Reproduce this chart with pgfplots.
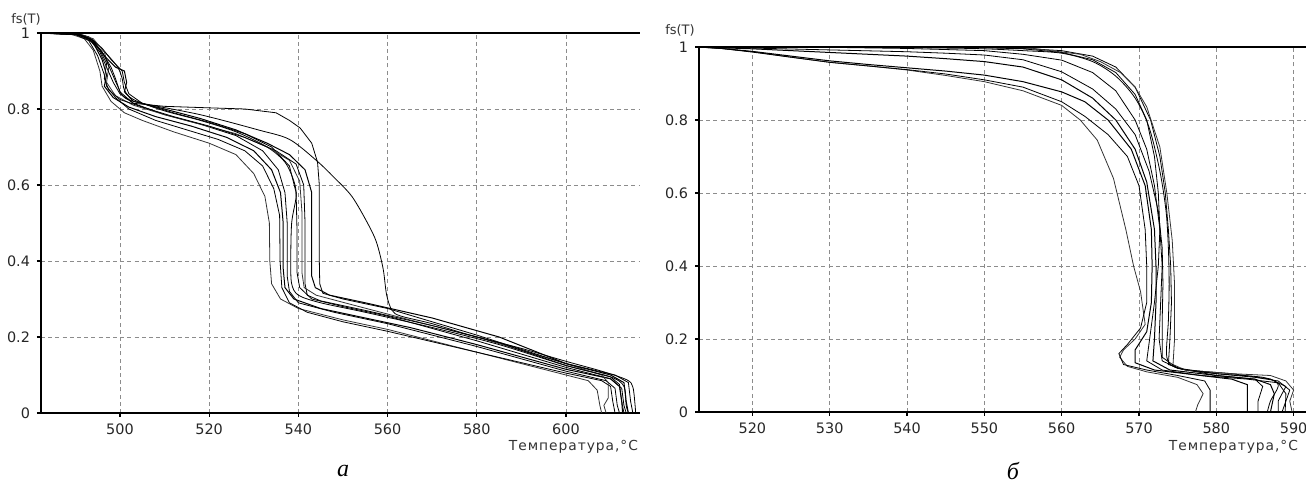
\documentclass[border=0pt]{standalone}
\usepackage{fontspec}
\setmainfont{DejaVu Sans}
\newfontfamily\capfont{Liberation Serif}
\usepackage{pgfplots}
\pgfplotsset{compat=1.18}

\pgfplotsset{
  panel/.style={
    scale only axis, anchor=south west,
    axis lines=left, axis line style={-, line width=1pt, black},
    ymin=0, ymax=1, ytick={0,0.2,...,1},
    yticklabels={0,0.2,0.4,0.6,0.8,1},
    grid=major,
    major grid style={black!45, line width=0.4pt, dash pattern=on 2pt off 1.6pt},
    tick align=outside, major tick length=2pt,
    tick style={black, line width=0.6pt},
    tick label style={font=\fontsize{7.2}{8}\selectfont, text=black!85},
    /pgf/number format/assume math mode=true,
    cycle list={{black!80, solid, line width=0.5pt, line join=round, smooth, tension=0.35}},
    no markers,
  },
}

\begin{document}
\begin{tikzpicture}
\path[use as bounding box] (0,0) rectangle (653pt,242.5pt);

% ---- panel a ----
\begin{axis}[panel, at={(20.5pt,36pt)}, width=299.5pt, height=190pt,
  xmin=482.3, xmax=616.6, xtick={500,520,...,600}]
% L1
\addplot coordinates {(482,1)(489,0.997)(492,0.985)(494,0.955)(495.5,0.9)(496,0.86)(498,0.82)(501,0.79)(505,0.77)(512,0.74)(520,0.71)(526,0.68)(530,0.63)(532.5,0.57)(533.5,0.5)(533.6,0.4)(534,0.34)(536,0.3)(540,0.275)(550,0.245)(560,0.22)(570,0.19)(580,0.16)(590,0.13)(600,0.1)(605,0.085)(607,0.06)(607.6,0.02)(608,0)};
% L2
\addplot coordinates {(482,1)(490,0.996)(493,0.98)(495,0.94)(496.5,0.89)(497,0.86)(499,0.83)(502,0.8)(508,0.77)(515,0.745)(522,0.72)(528,0.69)(532,0.65)(534.5,0.59)(535.8,0.52)(535.9,0.4)(536.3,0.33)(538,0.29)(542,0.265)(550,0.24)(560,0.215)(580,0.16)(600,0.105)(608,0.085)(610,0.07)(610.5,0.03)(611,0)};
% L3
\addplot coordinates {(482,1)(491,0.995)(494,0.975)(496,0.93)(497,0.89)(496.5,0.86)(498.5,0.83)(502,0.805)(508,0.78)(516,0.755)(524,0.725)(530,0.69)(534,0.64)(536,0.58)(536.6,0.5)(536.6,0.38)(537,0.33)(539,0.3)(545,0.275)(555,0.25)(565,0.225)(580,0.18)(600,0.115)(610,0.09)(612,0.07)(612.5,0.03)(612.7,0)};
% L4
\addplot coordinates {(482,1)(490,0.997)(493.5,0.985)(496,0.95)(498,0.91)(499,0.88)(500,0.845)(503,0.815)(510,0.785)(518,0.76)(526,0.73)(532,0.69)(535.5,0.64)(537,0.58)(537.5,0.5)(537.5,0.36)(538,0.32)(540,0.29)(548,0.265)(560,0.235)(580,0.175)(600,0.11)(609,0.085)(611,0.065)(611.5,0.02)(612,0)};
% L5
\addplot coordinates {(482,1)(491,0.996)(494,0.98)(497,0.945)(499.5,0.91)(500.5,0.88)(501,0.85)(503,0.825)(510,0.795)(518,0.77)(526,0.74)(533,0.7)(537,0.66)(539,0.61)(539.5,0.57)(538.5,0.5)(538.3,0.4)(538.5,0.34)(540,0.31)(545,0.29)(555,0.265)(570,0.225)(585,0.18)(600,0.125)(610,0.095)(613,0.07)(613.5,0.02)(614,0)};
% L6
\addplot coordinates {(482,1)(490,0.998)(493,0.99)(496,0.96)(498,0.93)(500.5,0.9)(501,0.87)(502,0.84)(505,0.815)(512,0.79)(520,0.765)(528,0.735)(534,0.7)(538,0.65)(539.5,0.58)(539.7,0.48)(539.7,0.37)(540.3,0.33)(543,0.3)(550,0.28)(560,0.255)(580,0.19)(600,0.12)(610,0.09)(612.5,0.065)(613,0.02)(613.5,0)};
% L7
\addplot coordinates {(482,1)(491,0.997)(494,0.985)(496.5,0.95)(497.5,0.91)(497,0.87)(499,0.835)(503,0.81)(510,0.785)(518,0.76)(526,0.735)(533,0.7)(538,0.665)(540.3,0.61)(540.8,0.53)(540.8,0.37)(541.3,0.33)(544,0.31)(552,0.285)(565,0.245)(580,0.2)(600,0.13)(608,0.1)(609.5,0.08)(609.5,0.04)(608.5,0.02)(609,0)};
% L8
\addplot coordinates {(482,1)(490,0.996)(493,0.985)(495.5,0.955)(497,0.92)(496.5,0.88)(497.5,0.85)(500,0.825)(505,0.805)(512,0.78)(520,0.755)(528,0.725)(535,0.69)(539.5,0.655)(541.2,0.6)(541.5,0.5)(541.5,0.34)(542,0.31)(545,0.295)(555,0.27)(570,0.23)(585,0.185)(600,0.125)(610,0.095)(612,0.075)(612.5,0.03)(613,0)};
% L9
\addplot coordinates {(482,1)(491,0.996)(494,0.98)(496.5,0.94)(499,0.91)(501,0.9)(501.5,0.87)(501,0.845)(503,0.82)(510,0.8)(518,0.775)(526,0.745)(533,0.71)(538,0.68)(541.5,0.64)(543,0.58)(543,0.45)(543,0.36)(543.8,0.33)(547,0.31)(555,0.29)(570,0.25)(585,0.2)(600,0.13)(610,0.1)(613,0.08)(613.5,0.03)(614,0)};
% flat at 0.8
\addplot coordinates {(482,1)(490,0.997)(493,0.985)(495.5,0.95)(497,0.91)(498.5,0.87)(500,0.84)(503,0.815)(510,0.807)(520,0.803)(528,0.8)(535,0.79)(538,0.77)(540.4,0.75)(543,0.71)(544.3,0.66)(544.7,0.6)(544.7,0.4)(544.8,0.34)(545.5,0.315)(550,0.3)(560,0.275)(580,0.205)(600,0.13)(611,0.1)(614,0.08)(614.5,0.03)(615,0)};
% late
\addplot coordinates {(482,1)(490,0.997)(493,0.985)(496,0.95)(498,0.9)(499.5,0.86)(501,0.83)(505,0.815)(518,0.785)(531,0.745)(538,0.72)(544,0.665)(548,0.62)(552,0.57)(555.5,0.5)(557.5,0.45)(559,0.38)(559.8,0.31)(561,0.27)(563,0.255)(570,0.235)(578.5,0.205)(590,0.17)(600,0.136)(608,0.11)(613.7,0.087)(615,0.068)(615.5,0.02)(615.6,0)};
\draw[line width=1pt] (rel axis cs:0,1) -- (rel axis cs:1,1);
\end{axis}

% ---- panel b ----
\begin{axis}[panel, at={(349.5pt,36.5pt)}, width=303.5pt, height=182.5pt,
  xmin=513.1, xmax=591.6, xtick={520,530,...,590}]
% R1
\addplot coordinates {(513,1)(516,0.996)(520,0.987)(525,0.972)(530,0.958)(535,0.948)(540,0.937)(545,0.922)(550,0.905)(555,0.88)(560,0.84)(562.4,0.8)(564.6,0.745)(566.7,0.64)(568.3,0.5)(569.3,0.4)(570.2,0.33)(570.8,0.24)(569.5,0.2)(568,0.17)(567.5,0.15)(568.5,0.125)(571,0.11)(575,0.095)(577.5,0.075)(578.3,0.05)(577.6,0.02)(577.3,0)};
% R2
\addplot coordinates {(513,1)(516,0.996)(520,0.986)(525,0.972)(530,0.958)(535,0.948)(540,0.938)(545,0.926)(550,0.91)(555,0.89)(560,0.85)(563,0.81)(566,0.76)(568.5,0.7)(570,0.62)(570.8,0.5)(571,0.4)(571,0.3)(570.2,0.23)(568.5,0.185)(567.4,0.16)(568,0.13)(571,0.115)(575,0.1)(578.5,0.085)(579.2,0.06)(579.2,0)};
% R3
\addplot coordinates {(513,1)(516,0.996)(520,0.988)(525,0.975)(530,0.962)(535,0.952)(540,0.943)(545,0.934)(550,0.923)(555,0.905)(560,0.877)(563,0.85)(566,0.8)(569,0.72)(570.8,0.62)(571.6,0.5)(571.7,0.4)(571.6,0.3)(571,0.22)(569.5,0.17)(569.5,0.135)(572,0.115)(578,0.1)(582,0.09)(584,0.075)(584,0)};
% R4
\addplot coordinates {(513,1)(530,0.999)(540,0.996)(550,0.99)(555,0.98)(560,0.964)(564,0.93)(567,0.88)(569.5,0.8)(571,0.72)(572,0.62)(572.7,0.5)(573,0.4)(572.8,0.3)(572.6,0.2)(573,0.14)(575,0.12)(580,0.1)(585,0.09)(586,0.07)(585.4,0.03)(585.4,0)};
% R5
\addplot coordinates {(513,1)(535,0.999)(545,0.997)(550,0.995)(555,0.99)(560,0.983)(564,0.96)(567,0.92)(569.5,0.86)(571.3,0.78)(572.7,0.66)(573.5,0.55)(573.8,0.45)(573.9,0.35)(573.8,0.25)(573.6,0.15)(575,0.12)(580,0.105)(586,0.095)(588,0.075)(587,0.03)(586.6,0)};
% R6
\addplot coordinates {(513,1)(550,0.999)(556,0.995)(560,0.99)(564,0.975)(567,0.945)(569.5,0.89)(571.5,0.8)(572.7,0.7)(573.4,0.6)(573.8,0.5)(574.1,0.4)(574.2,0.3)(574,0.2)(573.8,0.13)(576,0.115)(582,0.105)(587,0.09)(589,0.07)(588,0.03)(588,0)};
% R7
\addplot coordinates {(513,1)(550,1)(556,0.997)(562.4,0.98)(565,0.96)(567.6,0.93)(569.5,0.89)(571,0.836)(572.7,0.726)(573.6,0.6)(574.3,0.47)(574.6,0.35)(574.6,0.2)(574.4,0.13)(576,0.115)(582,0.105)(587,0.1)(589,0.085)(590,0.06)(589.5,0.03)(589.8,0)};
% R8
\addplot coordinates {(513,1)(548,0.999)(555,0.995)(560,0.985)(564,0.965)(567,0.93)(569.5,0.87)(571,0.8)(572,0.7)(572.5,0.6)(572.7,0.5)(572.5,0.4)(572,0.3)(571.5,0.22)(571,0.14)(573,0.115)(578,0.1)(584,0.09)(588,0.08)(589,0.05)(588.9,0)};
% R9
\addplot coordinates {(513,1)(520,0.995)(530,0.985)(540,0.975)(545,0.968)(550,0.96)(555,0.945)(560,0.91)(564,0.86)(567,0.8)(569.5,0.72)(571,0.63)(572,0.5)(572.2,0.4)(572.2,0.3)(572,0.2)(571.8,0.14)(574,0.115)(580,0.1)(585,0.09)(587,0.075)(587.5,0.05)(587,0)};
% R10
\addplot coordinates {(513,1)(520,0.997)(530,0.992)(540,0.987)(545,0.983)(550,0.978)(555,0.965)(560,0.932)(564,0.885)(567,0.83)(569.5,0.76)(571.3,0.66)(572.5,0.55)(573,0.45)(573.1,0.35)(573,0.25)(573,0.15)(575,0.12)(580,0.105)(585,0.095)(588,0.085)(589.5,0.06)(589,0.03)(588.5,0)};
\draw[line width=1pt] (rel axis cs:0,1) -- (rel axis cs:1,1);
\end{axis}

% labels
\node[font=\fontsize{6.5}{7}\selectfont, text=black!80] at (13pt,233pt) {fs(T)};
\node[font=\fontsize{6.5}{7}\selectfont, text=black!80] at (340pt,227.5pt) {fs(T)};
\node[font=\fontsize{6.9}{8}\selectfont\addfontfeature{LetterSpace=7}, text=black!80, anchor=east] at (322.5pt,19pt) {Температура,°C};
\node[font=\fontsize{6.9}{8}\selectfont\addfontfeature{LetterSpace=7}, text=black!80, anchor=east] at (652.5pt,19pt) {Температура,°C};
\node[font=\capfont\itshape\fontsize{12}{14}\selectfont] at (171.5pt,7pt) {а};
\node[font=\capfont\itshape\fontsize{12}{14}\selectfont] at (506.5pt,7pt) {б};
\end{tikzpicture}
\end{document}
